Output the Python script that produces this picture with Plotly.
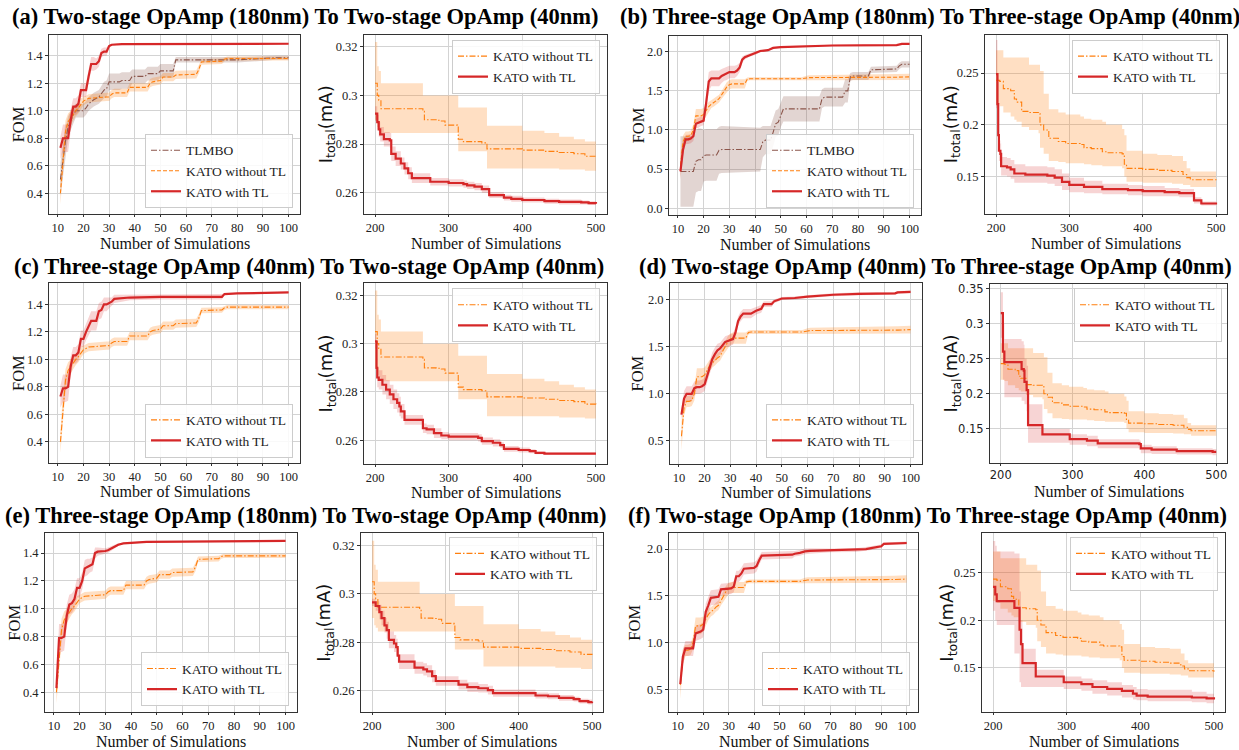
import plotly.graph_objects as go

W, H = 1239, 750

# ------------------------------------------------------------------ data
FOM_XTICKS = [10, 20, 30, 40, 50, 60, 70, 80, 90, 100]
I_XTICKS = [200, 300, 400, 500]

TITLES = [
    "(a) Two-stage OpAmp (180nm) To Two-stage OpAmp (40nm)",
    "(b) Three-stage OpAmp (180nm) To Three-stage OpAmp (40nm)",
    "(c) Three-stage OpAmp (40nm) To Two-stage OpAmp (40nm)",
    "(d) Two-stage OpAmp (40nm) To Three-stage OpAmp (40nm)",
    "(e) Three-stage OpAmp (180nm) To Two-stage OpAmp (40nm)",
    "(f) Two-stage OpAmp (180nm) To Three-stage OpAmp (40nm)",
]
NAMES = ["TLMBO", "KATO without TL", "KATO with TL"]

# --- FOM panels, target = two-stage (a, c, e)
ACE_NOTL_X = [11,12,13,14,15,16,17,18,19,20,21,22,29,30,31,32,37,38,45,46,47,50,51,55,56,62,64,65,66,74,75,76,100]
ACE_NOTL_Y = [0.40,0.65,0.85,0.92,0.95,0.98,1.00,1.02,1.05,1.07,1.08,1.09,1.10,1.10,1.12,1.13,1.13,1.17,1.17,1.20,1.21,1.22,1.245,1.245,1.26,1.26,1.265,1.30,1.355,1.36,1.375,1.38,1.38]
ACE_NOTL_SD = [0.08,0.10,0.08,0.06,0.05,0.05,0.04,0.04,0.04,0.03,0.03,0.03,0.03,0.03,0.03,0.03,0.03,0.03,0.03,0.03,0.03,0.03,0.03,0.03,0.03,0.03,0.03,0.03,0.02,0.02,0.015,0.015,0.015]

A_TLMBO_X = [11,12,13,14,15,16,17,20,21,22,24,26,28,29,30,34,35,38,39,44,45,49,50,55,56,80,95,100]
A_TLMBO_Y = [0.50,0.65,0.78,0.88,0.93,0.97,1.00,1.00,1.02,1.05,1.08,1.10,1.15,1.16,1.21,1.21,1.22,1.22,1.25,1.25,1.27,1.27,1.29,1.29,1.37,1.37,1.385,1.385]
A_TLMBO_SD = [0.12,0.12,0.10,0.08,0.07,0.06,0.05,0.05,0.05,0.05,0.05,0.05,0.06,0.06,0.06,0.06,0.06,0.06,0.05,0.05,0.05,0.05,0.05,0.05,0.02,0.02,0.015,0.015]

A_TL_X = [11,12,13,14,15,16,17,18,19,20,21,22,23,24,25,26,27,28,29,30,31,35,100]
A_TL_Y = [0.73,0.80,0.80,0.80,0.93,1.03,1.03,1.05,1.15,1.15,1.15,1.25,1.34,1.34,1.34,1.36,1.42,1.43,1.43,1.47,1.48,1.485,1.487]
A_TL_SD = [0.08,0.10,0.10,0.10,0.08,0.06,0.06,0.06,0.05,0.05,0.05,0.05,0.05,0.05,0.04,0.04,0.03,0.03,0.03,0.01,0.005,0.004,0.004]

C_TL_X = [11,12,13,14,15,16,17,18,19,20,21,22,23,25,26,27,28,29,30,31,32,35,38,50,74,75,80,100]
C_TL_Y = [0.73,0.79,0.79,0.80,0.95,1.03,1.03,1.05,1.15,1.15,1.20,1.24,1.28,1.28,1.35,1.36,1.40,1.40,1.41,1.42,1.44,1.445,1.45,1.455,1.455,1.475,1.48,1.487]
C_TL_SD = [0.08,0.10,0.10,0.10,0.07,0.06,0.06,0.06,0.06,0.06,0.06,0.07,0.07,0.07,0.06,0.06,0.05,0.05,0.04,0.03,0.03,0.025,0.02,0.02,0.02,0.005,0.004,0.004]

E_TL_X = [11,12,13,14,15,16,17,18,19,20,21,22,23,24,25,26,27,30,31,33,35,37,45,46,100]
E_TL_Y = [0.43,0.79,0.79,0.80,0.95,1.03,1.04,1.07,1.15,1.15,1.20,1.29,1.30,1.31,1.32,1.40,1.41,1.415,1.42,1.44,1.46,1.47,1.475,1.48,1.487]
E_TL_SD = [0.05,0.10,0.10,0.10,0.08,0.07,0.07,0.07,0.07,0.07,0.06,0.06,0.06,0.05,0.05,0.04,0.03,0.02,0.02,0.015,0.01,0.005,0.005,0.004,0.004]

# --- FOM panels, target = three-stage (b, d, f)
BDF_NOTL_X = [11,12,13,14,15,16,17,19,20,21,22,23,24,25,26,27,28,29,30,31,36,37,38,58,60,61,95,100]
BDF_NOTL_Y = [0.55,0.85,0.92,0.92,0.93,1.00,1.18,1.18,1.20,1.25,1.30,1.33,1.35,1.38,1.40,1.45,1.50,1.55,1.58,1.59,1.59,1.65,1.655,1.655,1.665,1.67,1.675,1.68]
BDF_NOTL_SD = [0.15,0.08,0.06,0.06,0.06,0.07,0.09,0.09,0.08,0.07,0.06,0.05,0.05,0.05,0.05,0.05,0.06,0.06,0.06,0.06,0.06,0.02,0.02,0.02,0.03,0.03,0.04,0.04]

B_TLMBO_X = [11,16,17,18,19,20,21,25,26,27,42,43,44,46,47,48,49,50,51,65,66,67,74,75,76,77,78,84,85,95,96,97,100]
B_TLMBO_Y = [0.47,0.47,0.60,0.62,0.62,0.67,0.68,0.68,0.74,0.75,0.75,0.85,0.87,0.87,0.97,1.08,1.10,1.20,1.27,1.27,1.40,1.42,1.42,1.50,1.50,1.68,1.69,1.69,1.77,1.78,1.82,1.84,1.84]
B_TLMBO_SD = [0.45,0.45,0.40,0.40,0.40,0.33,0.33,0.33,0.30,0.30,0.28,0.20,0.18,0.18,0.18,0.17,0.17,0.16,0.16,0.16,0.12,0.12,0.12,0.15,0.15,0.05,0.05,0.05,0.04,0.04,0.04,0.04,0.04]

B_TL_X = [11,12,13,14,15,16,17,18,19,20,21,22,23,26,27,28,29,30,32,33,34,35,36,38,40,42,45,47,50,65,70,95,97,100]
B_TL_Y = [0.47,0.75,0.88,0.88,0.89,0.92,1.08,1.09,1.11,1.12,1.35,1.62,1.66,1.66,1.69,1.71,1.72,1.74,1.74,1.76,1.80,1.90,1.93,1.96,1.98,2.01,2.02,2.05,2.06,2.07,2.08,2.085,2.10,2.10]
B_TL_SD = [0.10,0.08,0.06,0.06,0.06,0.06,0.06,0.06,0.06,0.06,0.10,0.12,0.10,0.10,0.09,0.08,0.08,0.08,0.08,0.07,0.06,0.04,0.03,0.02,0.02,0.015,0.01,0.01,0.01,0.01,0.01,0.01,0.01,0.01]

D_TL_X = [11,12,13,15,16,17,18,19,20,21,22,23,24,25,26,27,28,29,30,31,32,33,34,35,38,40,42,43,46,47,50,55,60,70,80,94,95,100]
D_TL_Y = [0.78,0.95,1.00,1.00,1.06,1.07,1.07,1.08,1.10,1.20,1.30,1.37,1.42,1.46,1.48,1.51,1.55,1.56,1.57,1.58,1.65,1.77,1.82,1.85,1.85,1.88,1.90,1.95,1.95,1.98,2.01,2.015,2.03,2.05,2.06,2.065,2.075,2.08]
D_TL_SD = [0.05,0.08,0.08,0.08,0.07,0.07,0.07,0.07,0.07,0.07,0.07,0.07,0.07,0.07,0.06,0.06,0.06,0.06,0.06,0.06,0.06,0.05,0.05,0.05,0.05,0.04,0.04,0.03,0.03,0.02,0.015,0.015,0.015,0.015,0.015,0.015,0.015,0.015]

F_TL_X = [11,12,13,16,17,18,19,20,21,22,23,26,27,31,32,33,34,35,36,40,41,42,43,55,56,58,60,62,70,80,84,86,88,90,91,100]
F_TL_Y = [0.56,0.85,0.94,0.94,1.10,1.11,1.12,1.14,1.33,1.40,1.48,1.49,1.57,1.58,1.60,1.71,1.71,1.74,1.79,1.80,1.82,1.88,1.93,1.94,1.95,1.96,1.975,1.98,1.985,1.99,2.00,2.01,2.02,2.03,2.055,2.065]
F_TL_SD = [0.05,0.08,0.08,0.08,0.08,0.08,0.08,0.08,0.09,0.09,0.08,0.08,0.06,0.06,0.06,0.06,0.06,0.06,0.06,0.06,0.06,0.05,0.04,0.04,0.03,0.03,0.03,0.03,0.02,0.02,0.02,0.02,0.02,0.02,0.015,0.015]

# --- I_total panels, target = two-stage 40nm (a, c, e)
ACE_I_NOTL_X = [200,203,205,208,263,265,267,283,290,295,312,313,320,345,352,400,430,450,470,485,500]
ACE_I_NOTL_Y = [0.305,0.300,0.298,0.2945,0.2945,0.2935,0.290,0.2898,0.2895,0.2878,0.2875,0.282,0.281,0.2805,0.278,0.2775,0.277,0.2765,0.276,0.275,0.2747]
ACE_I_NOTL_LO = [0.290,0.287,0.286,0.2845,0.2845,0.2845,0.2845,0.2845,0.2845,0.2845,0.2845,0.277,0.277,0.277,0.270,0.270,0.270,0.2695,0.2695,0.269,0.269]
ACE_I_NOTL_HI = [0.322,0.312,0.310,0.305,0.305,0.300,0.300,0.300,0.300,0.300,0.300,0.295,0.295,0.295,0.2875,0.2855,0.2845,0.283,0.282,0.281,0.280]

A_I_TL_X = [200,203,205,207,212,220,222,228,235,240,245,250,275,300,320,325,335,345,355,375,385,400,430,450,480,490,500]
A_I_TL_Y = [0.2925,0.289,0.286,0.284,0.282,0.2815,0.276,0.274,0.272,0.270,0.268,0.266,0.2645,0.264,0.2635,0.263,0.2625,0.2615,0.259,0.258,0.2575,0.257,0.2565,0.2562,0.256,0.2557,0.2555]
A_I_TL_SD = [0.003,0.003,0.003,0.003,0.003,0.003,0.003,0.003,0.0025,0.0025,0.0025,0.002,0.0015,0.0015,0.0015,0.0015,0.0015,0.0015,0.0012,0.0012,0.0012,0.001,0.001,0.001,0.0008,0.0008,0.0008]

C_I_TL_X = [200,202,203,205,210,215,220,225,230,233,235,240,265,270,280,290,300,340,345,360,370,375,395,410,418,430,500]
C_I_TL_Y = [0.301,0.290,0.286,0.285,0.283,0.281,0.279,0.277,0.2755,0.274,0.272,0.2685,0.265,0.2645,0.263,0.262,0.2615,0.261,0.2597,0.259,0.258,0.2565,0.256,0.2555,0.2548,0.2545,0.2545]
C_I_TL_SD = [0.003,0.004,0.004,0.004,0.004,0.004,0.004,0.004,0.004,0.004,0.003,0.002,0.002,0.002,0.002,0.0015,0.0015,0.0015,0.0015,0.0015,0.0012,0.0012,0.001,0.0008,0.0006,0.0005,0.0005]

E_I_TL_X = [200,205,210,213,217,220,223,230,233,235,237,258,270,275,282,287,318,330,345,358,365,423,440,455,475,483,495,500]
E_I_TL_Y = [0.2965,0.295,0.2925,0.290,0.287,0.285,0.281,0.2795,0.278,0.2745,0.272,0.2695,0.2688,0.268,0.266,0.264,0.2625,0.2615,0.261,0.2602,0.259,0.258,0.2577,0.257,0.2565,0.2557,0.2553,0.2555]
E_I_TL_SD = [0.0015,0.002,0.003,0.003,0.003,0.0035,0.0035,0.0035,0.0035,0.003,0.003,0.0025,0.0025,0.0025,0.0025,0.002,0.002,0.002,0.0018,0.0018,0.0015,0.0012,0.0012,0.0012,0.001,0.001,0.001,0.001]

# --- I_total panels, target = three-stage 40nm (b, d, f)
BDF_I_NOTL_X = [200,205,210,220,225,228,235,245,258,260,265,272,285,295,315,320,330,345,350,372,375,378,400,420,440,455,460,465,500]
BDF_I_NOTL_Y = [0.243,0.242,0.235,0.233,0.225,0.222,0.213,0.212,0.211,0.200,0.195,0.187,0.184,0.182,0.181,0.178,0.177,0.174,0.173,0.172,0.162,0.158,0.157,0.156,0.155,0.152,0.149,0.147,0.146]
BDF_I_NOTL_HI = [0.272,0.272,0.265,0.265,0.265,0.265,0.265,0.258,0.258,0.252,0.230,0.215,0.212,0.210,0.208,0.206,0.205,0.203,0.200,0.196,0.190,0.175,0.172,0.171,0.170,0.165,0.158,0.155,0.154]
BDF_I_NOTL_LO = [0.220,0.218,0.212,0.208,0.205,0.203,0.198,0.195,0.192,0.178,0.172,0.165,0.164,0.163,0.163,0.162,0.161,0.160,0.160,0.158,0.150,0.145,0.144,0.144,0.143,0.142,0.142,0.140,0.140]

B_I_TL_X = [200,202,203,204,206,207,215,220,225,240,270,280,290,300,320,345,380,400,430,450,470,480,500]
B_I_TL_Y = [0.249,0.22,0.19,0.175,0.172,0.160,0.159,0.157,0.153,0.152,0.151,0.149,0.145,0.142,0.140,0.138,0.137,0.136,0.135,0.134,0.127,0.124,0.123]
B_I_TL_SD = [0.033,0.025,0.015,0.010,0.010,0.009,0.009,0.009,0.009,0.008,0.008,0.008,0.008,0.007,0.006,0.005,0.005,0.005,0.004,0.004,0.003,0.002,0.002]

D_I_TL_X = [200,203,205,229,232,233,236,238,258,296,320,335,393,395,410,445,495,500]
D_I_TL_Y = [0.315,0.26,0.245,0.235,0.233,0.217,0.205,0.155,0.142,0.135,0.133,0.129,0.128,0.122,0.120,0.118,0.117,0.117]
D_I_TL_HI = [0.345,0.30,0.278,0.275,0.27,0.25,0.24,0.185,0.150,0.142,0.140,0.135,0.133,0.127,0.125,0.122,0.121,0.121]
D_I_TL_LO = [0.280,0.22,0.195,0.19,0.19,0.185,0.175,0.130,0.130,0.127,0.125,0.122,0.120,0.115,0.114,0.113,0.112,0.112]

F_I_TL_X = [200,203,205,229,236,238,240,258,296,320,335,355,375,390,395,410,470,490,500]
F_I_TL_Y = [0.235,0.227,0.220,0.213,0.190,0.175,0.155,0.141,0.135,0.133,0.130,0.128,0.126,0.123,0.121,0.120,0.119,0.118,0.117]
F_I_TL_HI = [0.283,0.278,0.272,0.270,0.230,0.200,0.170,0.148,0.141,0.139,0.137,0.135,0.132,0.130,0.128,0.127,0.125,0.123,0.122]
F_I_TL_LO = [0.210,0.200,0.195,0.165,0.135,0.130,0.130,0.130,0.128,0.126,0.123,0.121,0.119,0.117,0.116,0.115,0.114,0.113,0.112]

# tick labels
YT_FOM14 = [0.4, 0.6, 0.8, 1.0, 1.2, 1.4]
YT_FOM14_TXT = ["0.4", "0.6", "0.8", "1.0", "1.2", "1.4"]
YT_FOM20 = [0.0, 0.5, 1.0, 1.5, 2.0]
YT_FOM20_TXT = ["0.0", "0.5", "1.0", "1.5", "2.0"]
YT_FOM20B = [0.5, 1.0, 1.5, 2.0]
YT_FOM20B_TXT = ["0.5", "1.0", "1.5", "2.0"]
YT_I2 = [0.26, 0.28, 0.30, 0.32]
YT_I2_TXT = ["0.26", "0.28", "0.3", "0.32"]
YT_I3 = [0.15, 0.20, 0.25]
YT_I3_TXT = ["0.15", "0.2", "0.25"]
YT_I3B = [0.15, 0.20, 0.25, 0.30, 0.35]
YT_I3B_TXT = ["0.15", "0.2", "0.25", "0.3", "0.35"]

# ------------------------------------------------------------------ style
RED, ORANGE, BROWN = "#d62728", "#ff7f0e", "#8c564b"
FILL = {RED: "rgba(214,39,40,0.20)", ORANGE: "rgba(255,127,14,0.25)", BROWN: "rgba(140,86,75,0.25)"}
SERIF = "Liberation Serif"
SANS = "DejaVu Sans"
DASHDOT = "6px,2px,1.5px,2px"
DASHED = "4px,2px"


def sd_band(y, sd):
    return [a - s for a, s in zip(y, sd)], [a + s for a, s in zip(y, sd)]


def S(k, x, y, lo, hi, color, dash, width):
    return dict(k=k, x=x, y=y, lo=lo, hi=hi, color=color, dash=dash, width=width)


ace_notl_lo, ace_notl_hi = sd_band(ACE_NOTL_Y, ACE_NOTL_SD)
bdf_notl_lo, bdf_notl_hi = sd_band(BDF_NOTL_Y, BDF_NOTL_SD)

panels = [
    dict(box=(49, 300, 32, 212), kind="fom", yr=[0.25, 1.552], yt=(YT_FOM14, YT_FOM14_TXT),
         leg=("br", 293, 206), ytitle_x=18,
         series=[S(0, A_TLMBO_X, A_TLMBO_Y, *sd_band(A_TLMBO_Y, A_TLMBO_SD), BROWN, DASHDOT, 1.1),
                 S(1, ACE_NOTL_X, ACE_NOTL_Y, ace_notl_lo, ace_notl_hi, ORANGE, DASHED, 1.1),
                 S(2, A_TL_X, A_TL_Y, *sd_band(A_TL_Y, A_TL_SD), RED, "solid", 2.2)]),
    dict(box=(364, 607, 32, 212), kind="i", yr=[0.2513, 0.3249], yt=(YT_I2, YT_I2_TXT),
         leg=("tr", 600, 37), ytitle_x=327,
         series=[S(1, ACE_I_NOTL_X, ACE_I_NOTL_Y, ACE_I_NOTL_LO, ACE_I_NOTL_HI, ORANGE, DASHDOT, 1.1),
                 S(2, A_I_TL_X, A_I_TL_Y, *sd_band(A_I_TL_Y, A_I_TL_SD), RED, "solid", 2.2)]),
    dict(box=(669, 921, 33, 213), kind="fom", yr=[-0.085, 2.204], yt=(YT_FOM20, YT_FOM20_TXT),
         leg=("br", 914, 206), ytitle_x=638,
         series=[S(0, B_TLMBO_X, B_TLMBO_Y, *sd_band(B_TLMBO_Y, B_TLMBO_SD), BROWN, DASHDOT, 1.1),
                 S(1, BDF_NOTL_X, BDF_NOTL_Y, bdf_notl_lo, bdf_notl_hi, ORANGE, DASHED, 1.1),
                 S(2, B_TL_X, B_TL_Y, *sd_band(B_TL_Y, B_TL_SD), RED, "solid", 2.2)]),
    dict(box=(985, 1227, 32, 212), kind="i", yr=[0.114, 0.287], yt=(YT_I3, YT_I3_TXT),
         leg=("tr", 1220, 37), ytitle_x=952,
         series=[S(1, BDF_I_NOTL_X, BDF_I_NOTL_Y, BDF_I_NOTL_LO, BDF_I_NOTL_HI, ORANGE, DASHDOT, 1.1),
                 S(2, B_I_TL_X, B_I_TL_Y, *sd_band(B_I_TL_Y, B_I_TL_SD), RED, "solid", 2.2)]),
    dict(box=(49, 300, 282, 462), kind="fom", yr=[0.25, 1.552], yt=(YT_FOM14, YT_FOM14_TXT),
         leg=("br", 293, 457), ytitle_x=18,
         series=[S(1, ACE_NOTL_X, ACE_NOTL_Y, ace_notl_lo, ace_notl_hi, ORANGE, DASHDOT, 1.1),
                 S(2, C_TL_X, C_TL_Y, *sd_band(C_TL_Y, C_TL_SD), RED, "solid", 2.2)]),
    dict(box=(364, 607, 282, 463), kind="i", yr=[0.2504, 0.3249], yt=(YT_I2, YT_I2_TXT),
         leg=("tr", 600, 287), ytitle_x=327,
         series=[S(1, ACE_I_NOTL_X, ACE_I_NOTL_Y, ACE_I_NOTL_LO, ACE_I_NOTL_HI, ORANGE, DASHDOT, 1.1),
                 S(2, C_I_TL_X, C_I_TL_Y, *sd_band(C_I_TL_Y, C_I_TL_SD), RED, "solid", 2.2)]),
    dict(box=(670, 922, 282, 463), kind="fom", yr=[0.261, 2.169], yt=(YT_FOM20B, YT_FOM20B_TXT),
         leg=("br", 914, 457), ytitle_x=638,
         series=[S(1, BDF_NOTL_X, BDF_NOTL_Y, bdf_notl_lo, bdf_notl_hi, ORANGE, DASHDOT, 1.1),
                 S(2, D_TL_X, D_TL_Y, *sd_band(D_TL_Y, D_TL_SD), RED, "solid", 2.2)]),
    dict(box=(990, 1227, 283, 462), kind="i", yr=[0.1017, 0.356], yt=(YT_I3B, YT_I3B_TXT),
         leg=("tr", 1222, 287), ytitle_x=952, sans_ticks=True,
         series=[S(1, BDF_I_NOTL_X, BDF_I_NOTL_Y, BDF_I_NOTL_LO, BDF_I_NOTL_HI, ORANGE, DASHDOT, 1.1),
                 S(2, D_I_TL_X, D_I_TL_Y, D_I_TL_LO, D_I_TL_HI, RED, "solid", 2.2)]),
    dict(box=(45, 297, 533, 713), kind="fom", yr=[0.257, 1.543], yt=(YT_FOM14, YT_FOM14_TXT),
         leg=("br", 289, 707), ytitle_x=15,
         series=[S(1, ACE_NOTL_X, ACE_NOTL_Y, ace_notl_lo, ace_notl_hi, ORANGE, DASHDOT, 1.1),
                 S(2, E_TL_X, E_TL_Y, *sd_band(E_TL_Y, E_TL_SD), RED, "solid", 2.2)]),
    dict(box=(361, 603, 533, 713), kind="i", yr=[0.2511, 0.3251], yt=(YT_I2, YT_I2_TXT),
         leg=("tr", 597, 537), ytitle_x=325,
         series=[S(1, ACE_I_NOTL_X, ACE_I_NOTL_Y, ACE_I_NOTL_LO, ACE_I_NOTL_HI, ORANGE, DASHDOT, 1.1),
                 S(2, E_I_TL_X, E_I_TL_Y, *sd_band(E_I_TL_Y, E_I_TL_SD), RED, "solid", 2.2)]),
    dict(box=(669, 918, 533, 713), kind="fom", yr=[0.259, 2.170], yt=(YT_FOM20B, YT_FOM20B_TXT),
         leg=("br", 910, 707), ytitle_x=635,
         series=[S(1, BDF_NOTL_X, BDF_NOTL_Y, bdf_notl_lo, bdf_notl_hi, ORANGE, DASHDOT, 1.1),
                 S(2, F_TL_X, F_TL_Y, *sd_band(F_TL_Y, F_TL_SD), RED, "solid", 2.2)]),
    dict(box=(982, 1225, 533, 713), kind="i", yr=[0.1036, 0.2912], yt=(YT_I3, YT_I3_TXT),
         leg=("tr", 1218, 537), ytitle_x=948,
         series=[S(1, BDF_I_NOTL_X, BDF_I_NOTL_Y, BDF_I_NOTL_LO, BDF_I_NOTL_HI, ORANGE, DASHDOT, 1.1),
                 S(2, F_I_TL_X, F_I_TL_Y, F_I_TL_LO, F_I_TL_HI, RED, "solid", 2.2)]),
]

TITLE_POS = [(305, 14), (930, 14), (309, 265), (935, 265), (305, 515), (927, 515)]

fig = go.Figure()
layout = dict(width=W, height=H, margin=dict(l=0, r=0, t=0, b=0), autosize=False,
              paper_bgcolor="white", plot_bgcolor="white", showlegend=True)
annotations = []


def px(xp):
    return xp / W


def py(yp):
    return 1 - yp / H


for i, p in enumerate(panels, start=1):
    sfx = "" if i == 1 else str(i)
    xa, ya = "x" + sfx, "y" + sfx
    legname = "legend" + sfx
    l, r, t, b = p["box"]
    shape = "linear" if p["kind"] == "fom" else "hv"
    for s in p["series"]:
        fig.add_trace(go.Scatter(x=s["x"], y=s["lo"], mode="lines", line=dict(width=0, shape=shape),
                                 showlegend=False, hoverinfo="skip", xaxis=xa, yaxis=ya, legend=legname))
        fig.add_trace(go.Scatter(x=s["x"], y=s["hi"], mode="lines", line=dict(width=0, shape=shape),
                                 fill="tonexty", fillcolor=FILL[s["color"]], showlegend=False,
                                 hoverinfo="skip", xaxis=xa, yaxis=ya, legend=legname))
    for s in p["series"]:
        fig.add_trace(go.Scatter(x=s["x"], y=s["y"], mode="lines", name=NAMES[s["k"]],
                                 line=dict(color=s["color"], width=s["width"], dash=s["dash"], shape=shape),
                                 xaxis=xa, yaxis=ya, legend=legname))
    tickfam = SANS if p.get("sans_ticks") else SERIF
    tsize = 11.5 if p.get("sans_ticks") else 12.5
    common = dict(showline=True, mirror=True, linecolor="#333333", linewidth=1,
                  ticks="outside", tickcolor="#333333", showgrid=True,
                  gridcolor="#d3d3d3", gridwidth=1, zeroline=False,
                  tickfont=dict(family=tickfam, size=tsize, color="#222222"))
    if p["kind"] == "fom":
        xr, xt = [6.55, 104.45], FOM_XTICKS
    else:
        xr, xt = [185, 515], I_XTICKS
    layout["xaxis" + sfx] = dict(domain=[px(l), px(r)], anchor=ya, range=xr, ticklen=2,
                                 tickvals=xt, ticktext=[str(v) for v in xt], **common)
    layout["yaxis" + sfx] = dict(domain=[py(b), py(t)], anchor=xa, range=p["yr"], ticklen=3,
                                 tickvals=p["yt"][0], ticktext=p["yt"][1], **common)
    corner, lx, ly = p["leg"]
    layout[legname] = dict(x=px(lx), y=py(ly), xanchor="right",
                           yanchor="bottom" if corner == "br" else "top",
                           bgcolor="rgba(255,255,255,0.85)", bordercolor="#cccccc", borderwidth=1,
                           font=dict(family=SERIF, size=13.5, color="#222222"),
                           tracegroupgap=0, itemwidth=30, traceorder="normal")
    annotations.append(dict(text="Number of Simulations", x=px((l + r) / 2), y=py(b + 29.5),
                            xref="paper", yref="paper", showarrow=False, xanchor="center",
                            yanchor="middle", font=dict(family=SERIF, size=16, color="#111111")))
    if p["kind"] == "fom":
        ytxt, yfont = "FOM", dict(family=SERIF, size=16.5, color="#111111")
    else:
        ytxt, yfont = "I<sub>total</sub>(mA)", dict(family=SANS, size=18, color="#111111")
    annotations.append(dict(text=ytxt, x=px(p["ytitle_x"]), y=py((t + b) / 2), xref="paper",
                            yref="paper", showarrow=False, textangle=-90, xanchor="center",
                            yanchor="middle", font=yfont))

for txt, (tx, ty) in zip(TITLES, TITLE_POS):
    annotations.append(dict(text="<b>" + txt + "</b>", x=px(tx), y=py(ty), xref="paper", yref="paper",
                            showarrow=False, xanchor="center", yanchor="middle",
                            font=dict(family=SERIF, size=22.5, color="#000000")))

layout["annotations"] = annotations
fig.update_layout(**layout)
fig.write_html("out.html", config={"displayModeBar": False},
               post_script="document.body.style.margin='0px';document.body.style.overflow='hidden';")
